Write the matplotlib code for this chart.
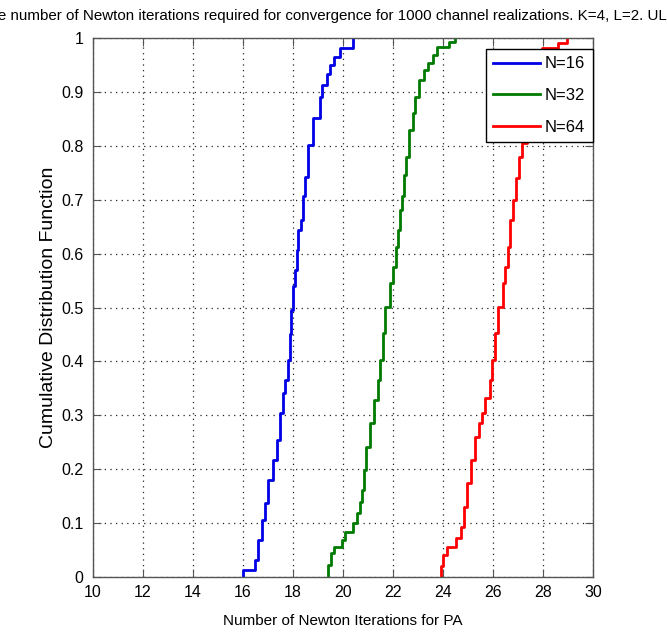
import matplotlib
matplotlib.use("Agg")
import matplotlib.pyplot as plt
from matplotlib import font_manager

names = {f.name for f in font_manager.fontManager.ttflist}
base_font = 'Liberation Sans Narrow' if 'Liberation Sans Narrow' in names else 'Liberation Sans'
plt.rcParams['font.family'] = [base_font, 'DejaVu Sans']

# ----------------------------------------------------------------------
# CDF data (iterations, cumulative probability)
n16_x = [16.00, 16.00, 16.48, 16.61, 16.75, 16.88, 17.01, 17.19, 17.35, 17.48, 17.59,
         17.68, 17.81, 17.86, 17.91, 17.99, 18.08, 18.15, 18.21, 18.32, 18.39, 18.48,
         18.61, 18.81, 19.08, 19.15, 19.35, 19.48, 19.64, 19.88, 20.41]
n16_f = [0.0, 0.013, 0.032, 0.069, 0.106, 0.137, 0.180, 0.217, 0.254, 0.304, 0.341,
         0.365, 0.403, 0.450, 0.495, 0.539, 0.570, 0.607, 0.644, 0.662, 0.706, 0.743,
         0.801, 0.851, 0.891, 0.913, 0.934, 0.950, 0.965, 0.981, 1.0]

n32_x = [19.40, 19.40, 19.52, 19.65, 19.95, 20.08, 20.41, 20.55, 20.68, 20.75, 20.84,
         20.92, 21.08, 21.24, 21.38, 21.48, 21.59, 21.68, 21.88, 21.99, 22.12, 22.20,
         22.28, 22.35, 22.45, 22.52, 22.65, 22.78, 22.88, 23.05, 23.24, 23.41, 23.61,
         23.75, 24.25, 24.48]
n32_f = [0.0, 0.022, 0.044, 0.056, 0.068, 0.084, 0.100, 0.118, 0.140, 0.161, 0.199,
         0.242, 0.285, 0.328, 0.365, 0.403, 0.453, 0.501, 0.545, 0.576, 0.613, 0.644,
         0.680, 0.706, 0.745, 0.780, 0.829, 0.860, 0.891, 0.922, 0.940, 0.953, 0.968,
         0.984, 0.993, 1.0]

n64_x = [23.92, 23.92, 24.01, 24.15, 24.50, 24.70, 24.84, 24.95, 25.11, 25.28, 25.45,
         25.55, 25.68, 25.88, 25.95, 26.08, 26.21, 26.41, 26.48, 26.61, 26.68, 26.80,
         26.92, 27.05, 27.15, 27.35, 27.55, 27.75, 27.95, 28.61, 28.95]
n64_f = [0.0, 0.020, 0.040, 0.056, 0.072, 0.093, 0.130, 0.174, 0.217, 0.260, 0.285,
         0.304, 0.332, 0.365, 0.403, 0.453, 0.501, 0.545, 0.576, 0.613, 0.662, 0.700,
         0.740, 0.780, 0.805, 0.850, 0.900, 0.950, 0.981, 0.990, 1.0]

labels = ['N=16', 'N=32', 'N=64']
x_ticks = [10, 12, 14, 16, 18, 20, 22, 24, 26, 28, 30]
y_ticks = [0, 0.1, 0.2, 0.3, 0.4, 0.5, 0.6, 0.7, 0.8, 0.9, 1]
y_tick_labels = ['0', '0.1', '0.2', '0.3', '0.4', '0.5', '0.6', '0.7', '0.8', '0.9', '1']

fig = plt.figure(figsize=(6.67, 6.35), dpi=100)
ax = fig.add_axes([93/667, 58/635, 500/667, 539/635])

ax.step(n16_x, n16_f, where='post', color='#0000e6', linewidth=2, label=labels[0])
ax.step(n32_x, n32_f, where='post', color='#007a00', linewidth=2, label=labels[1])
ax.step(n64_x, n64_f, where='post', color='#ff0000', linewidth=2, label=labels[2])

ax.set_xlim(10, 30)
ax.set_ylim(0, 1)
ax.set_xticks(x_ticks)
ax.set_xticklabels([str(t) for t in x_ticks])
ax.set_yticks(y_ticks)
ax.set_yticklabels(y_tick_labels)

ax.grid(True, linestyle=(0, (1, 3.5)), color='#222222', linewidth=0.9)
ax.set_axisbelow(True)

for side in ax.spines.values():
    side.set_color('#555555')
    side.set_linewidth(1.0)

ax.tick_params(axis='both', which='major', direction='in', length=6,
               top=True, right=True, labelsize=11.5, colors='#555555',
               labelcolor='black')
ax.tick_params(axis='x', pad=6)
ax.tick_params(axis='y', pad=7)

ax.set_xlabel("Number of Newton Iterations for PA", fontsize=11, labelpad=10)
ax.set_ylabel("Cumulative Distribution Function", fontsize=14, labelpad=3)

leg = ax.legend(loc='upper right', bbox_to_anchor=(1.0, 1 - 11/539), borderaxespad=0,
                fancybox=False, framealpha=1, edgecolor='black', fontsize=12,
                handlelength=2.8, labelspacing=1.0, borderpad=0.45, handletextpad=0.3)
leg.get_frame().set_linewidth(1.0)

# title is wider than the figure and gets clipped on both sides
title = ("CDF of the number of Newton iterations required for convergence "
         "for 1000 channel realizations. K=4, L=2. UL")
prefix = "CDF of th"
visible = "e number of Newton iterations required for convergence for 1000 channel realizations. K=4, L=2. U"
fig.canvas.draw()
renderer = fig.canvas.get_renderer()
tmp = fig.text(0, 0, visible, fontsize=10)
vis_w = tmp.get_window_extent(renderer).width
tmp.remove()
title_size = 10 * 664 / vis_w
tmp = fig.text(0, 0, prefix, fontsize=title_size)
pre_w = tmp.get_window_extent(renderer).width
tmp.remove()
fig.text((-pre_w - 2) / 667, 1 - 16/635, title, fontsize=title_size, ha='left', va='center')

fig.savefig("out.png", dpi=100, facecolor='white')
